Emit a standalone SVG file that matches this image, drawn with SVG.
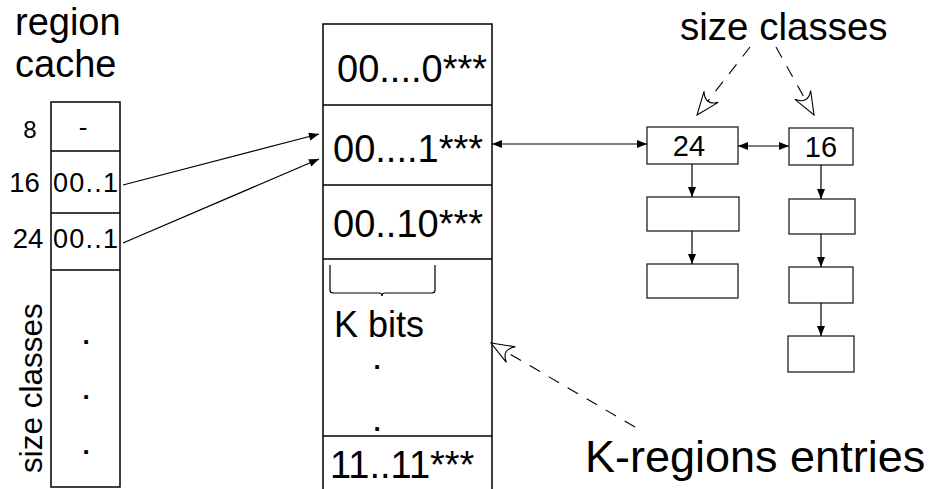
<svg xmlns="http://www.w3.org/2000/svg" width="932" height="489" viewBox="0 0 932 489">
  <style>
    text { font-family: "Liberation Sans", Arial, Helvetica, sans-serif; fill: #000; }
    .box { fill: #fff; stroke: #000; stroke-width: 1.5; }
    .sep { stroke: #000; stroke-width: 1.5; }
    .node { fill: #fff; stroke: #222; stroke-width: 1.3; }
    .link { stroke: #000; stroke-width: 1.2; fill: none; }
    .note { stroke: #000; stroke-width: 1.1; fill: none; stroke-dasharray: 12 10; }
    .dot { font-size: 26px; font-weight: bold; text-anchor: middle; }
  </style>
  <defs>
    <marker id="solid" viewBox="-11 -5 12 10" markerWidth="12" markerHeight="10" refX="0" refY="0" orient="auto-start-reverse" markerUnits="userSpaceOnUse">
      <path d="M-10,-4 L0,0 L-10,4 Z" fill="#000"/>
    </marker>
    <marker id="open" viewBox="-25 -11 27 22" markerWidth="27" markerHeight="22" refX="0" refY="0" orient="auto" markerUnits="userSpaceOnUse">
      <path d="M-23,-9 L0,0 L-23,9 Q-12,0 -23,-9 Z" fill="#fff" stroke="#000" stroke-width="1.1" stroke-linejoin="miter"/>
    </marker>
  </defs>

  <!-- region cache column -->
  <g id="region-cache">
    <text x="15" y="35" font-size="38">region</text>
    <text x="15" y="77" font-size="38">cache</text>
    <rect class="box" x="51" y="102" width="69" height="385"/>
    <line class="sep" x1="51" y1="151" x2="120" y2="151"/>
    <line class="sep" x1="51" y1="213" x2="120" y2="213"/>
    <line class="sep" x1="51" y1="270" x2="120" y2="270"/>
    <text x="30" y="138" font-size="24" text-anchor="middle">8</text>
    <text x="24.5" y="192" font-size="27.5" text-anchor="middle">16</text>
    <text x="28" y="248" font-size="27.5" text-anchor="middle">24</text>
    <text x="83" y="136" font-size="26" text-anchor="middle">-</text>
    <text x="53" y="192" font-size="27" textLength="65">00..1</text>
    <text x="53" y="248" font-size="27" textLength="65">00..1</text>
    <text class="dot" x="86" y="344">.</text>
    <text class="dot" x="86" y="399">.</text>
    <text class="dot" x="86" y="454">.</text>
    <text transform="translate(42,473) rotate(-90)" font-size="31.5">size classes</text>
  </g>

  <!-- K-regions entries table -->
  <g id="regions-table">
    <rect class="box" x="323" y="24" width="169" height="480"/>
    <line class="sep" x1="323" y1="105" x2="492" y2="105"/>
    <line class="sep" x1="323" y1="185" x2="492" y2="185"/>
    <line class="sep" x1="323" y1="259" x2="492" y2="259"/>
    <line class="sep" x1="323" y1="436" x2="492" y2="436"/>
    <text x="337" y="82" font-size="38">00....0***</text>
    <text x="333" y="162" font-size="38">00....1***</text>
    <text x="333" y="237" font-size="38">00..10***</text>
    <path d="M330,265 V290 Q330,293 333,293 H379 Q382,293 382,296 Q382,293 385,293 H432 Q435,293 435,290 V265" fill="none" stroke="#000" stroke-width="1.2"/>
    <text x="334" y="337" font-size="36">K bits</text>
    <text class="dot" x="377" y="369">.</text>
    <text class="dot" x="377" y="431">.</text>
    <text x="330" y="478" font-size="38">11..11***</text>
  </g>

  <!-- size class lists -->
  <g id="class-24">
    <rect class="node" x="647" y="127" width="91" height="37"/>
    <text x="689" y="156" font-size="29" text-anchor="middle">24</text>
  </g>
  <g id="class-24-r1"><rect class="node" x="647" y="197" width="92" height="34"/></g>
  <g id="class-24-r2"><rect class="node" x="647" y="264" width="91" height="34"/></g>
  <g id="class-16">
    <rect class="node" x="789" y="128" width="64" height="37"/>
    <text x="821" y="157" font-size="29" text-anchor="middle">16</text>
  </g>
  <g id="class-16-r1"><rect class="node" x="789" y="199" width="66" height="35"/></g>
  <g id="class-16-r2"><rect class="node" x="789" y="267" width="64" height="36"/></g>
  <g id="class-16-r3"><rect class="node" x="788" y="336" width="66" height="36"/></g>

  <!-- labels -->
  <g id="label-size-classes">
    <text x="680" y="40" font-size="38.5">size classes</text>
  </g>
  <g id="label-k-regions">
    <text x="585" y="472" font-size="45">K-regions entries</text>
  </g>

  <!-- connectors -->
  <g id="connectors">
    <line class="link" x1="123" y1="185" x2="319" y2="134" marker-end="url(#solid)"/>
    <line class="link" x1="123" y1="243" x2="319" y2="159" marker-end="url(#solid)"/>
    <line class="link" x1="492" y1="144" x2="647" y2="144" marker-start="url(#solid)" marker-end="url(#solid)"/>
    <line class="link" x1="738" y1="146" x2="789" y2="146" marker-start="url(#solid)" marker-end="url(#solid)"/>
    <line class="link" x1="692" y1="164" x2="692" y2="197" marker-end="url(#solid)"/>
    <line class="link" x1="692" y1="231" x2="692" y2="264" marker-end="url(#solid)"/>
    <line class="link" x1="821" y1="165" x2="821" y2="199" marker-end="url(#solid)"/>
    <line class="link" x1="821" y1="234" x2="821" y2="267" marker-end="url(#solid)"/>
    <line class="link" x1="821" y1="303" x2="821" y2="336" marker-end="url(#solid)"/>
    <line class="note" x1="750" y1="47" x2="697" y2="115" marker-end="url(#open)"/>
    <line class="note" x1="776" y1="47" x2="814" y2="115" marker-end="url(#open)"/>
    <line class="note" x1="635" y1="427" x2="491" y2="343" marker-end="url(#open)"/>
  </g>
</svg>
